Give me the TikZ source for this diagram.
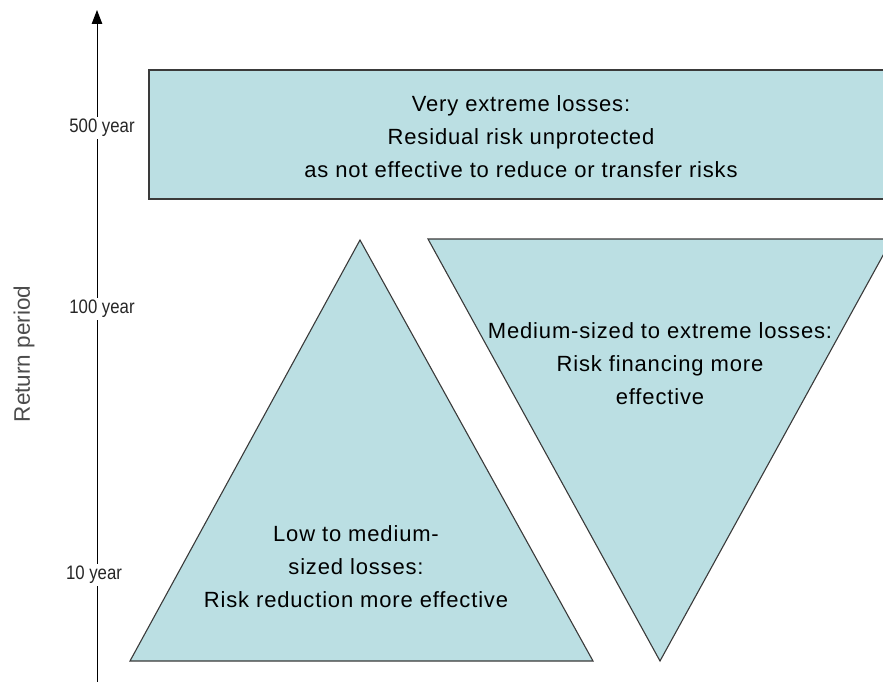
\documentclass[tikz,border=0pt]{standalone}
\usepackage{fontspec}
\setmainfont{Liberation Sans}
\usetikzlibrary{arrows.meta}
\definecolor{boxfill}{HTML}{BBDFE3}
\definecolor{edge}{HTML}{3A3A3A}
\newcommand{\tickfont}{\fontsize{19.5}{22}\selectfont}
\begin{document}
\begin{tikzpicture}[x=1pt,y=-1pt,
  zone/.style={fill=boxfill,draw=edge,line width=1.1pt,line join=miter},
  big/.style={font=\fontsize{22}{33}\selectfont\addfontfeature{LetterSpace=3.8},align=center,text=black},
  tick/.style={fill=white,inner sep=2pt,text=black!85}]
\useasboundingbox (0,0) rectangle (883,682);
\begin{scope}
\clip (0,0) rectangle (883,682);
% axis
\coordinate (axb) at (97,690);
\coordinate (axt) at (97,10);
\draw[line width=1pt,-{Triangle[length=14pt,width=10.5pt]}] (axb) -- (axt);
% shapes
\draw[zone] (149,70) rectangle (895,199);
\draw[zone] (130,661) -- (360,240) -- (593,661) -- cycle;
\draw[zone] (428,239) -- (892,239) -- (660,661) -- cycle;
\end{scope}
% labels
\node[tick] (t500) at (102,128) {\scalebox{0.86}[1]{\tickfont 500 year}};
\node[tick] (t100) at (102,309) {\scalebox{0.86}[1]{\tickfont 100 year}};
\node[tick] (t10) at (94,575) {\scalebox{0.86}[1]{\tickfont 10 year}};
\node[rotate=90,font=\fontsize{22.5}{24}\selectfont,text=black!70] (rp) at (24,354) {Return period};
\node[big] (top) at (521,137) {Very extreme losses:\\Residual risk unprotected\\as not effective to reduce or transfer risks};
\node[big] (low) at (356,567) {Low to medium-\\sized losses:\\Risk reduction more effective};
\node[big] (med) at (660,364) {Medium-sized to extreme losses:\\Risk financing more\\effective};
\end{tikzpicture}
\end{document}
